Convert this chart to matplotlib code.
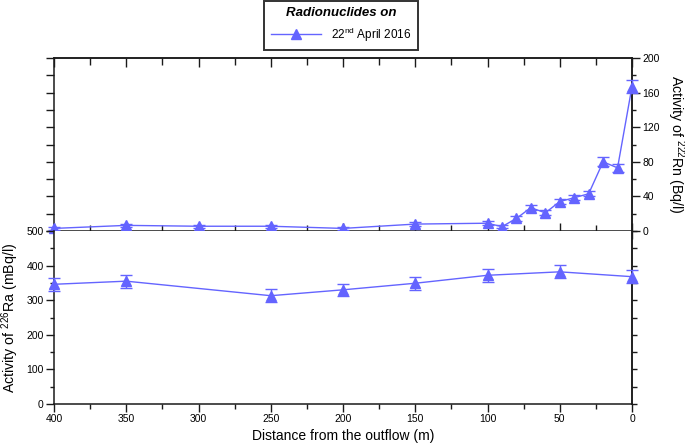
import matplotlib
matplotlib.use("Agg")
import matplotlib.pyplot as plt
from matplotlib.ticker import MultipleLocator, NullFormatter
from matplotlib.lines import Line2D

plt.rcParams['font.family'] = ['Liberation Sans', 'DejaVu Sans']
plt.rcParams['mathtext.fontset'] = 'custom'
plt.rcParams['mathtext.rm'] = 'Liberation Sans'
plt.rcParams['mathtext.it'] = 'Liberation Sans:italic'
plt.rcParams['mathtext.bf'] = 'Liberation Sans:bold'

# ---- data ----
rn_distance = [400, 350, 300, 250, 200, 150, 100, 90, 80, 70, 60, 50, 40, 30, 20, 10, 0]
rn_activity = [3, 6.5, 5.5, 5.5, 3, 8, 9, 5, 14.5, 27, 21, 34, 38.5, 43, 80, 73, 167]
rn_error = [2, 2, 2, 2, 2, 2, 2, 2, 3, 3, 3, 3, 3, 3, 5, 5, 8]

ra_distance = [400, 350, 250, 200, 150, 100, 50, 0]
ra_activity = [346, 355, 313, 330, 349, 372, 382, 368]
ra_error = [19, 19, 18, 18, 19, 19, 19, 19]

color = '#6464ff'
spine_c = '#1a1a1a'

fig = plt.figure(figsize=(6.85, 4.46), dpi=100)
L, W = 54 / 685, 578 / 685
H = 173 / 446
ax_rn = fig.add_axes([L, 1 - 231 / 446, W, H])
ax_ra = fig.add_axes([L, 1 - 404 / 446, W, H])

common = dict(color=color, marker='^', markersize=6.5, linewidth=1.0,
              elinewidth=1.0, capsize=4.5, capthick=1.0, clip_on=False, zorder=5)
h = ax_rn.errorbar(rn_distance, rn_activity, yerr=rn_error, **common)
ax_ra.errorbar(ra_distance, ra_activity, yerr=ra_error, **common)

for ax in (ax_rn, ax_ra):
    ax.set_xlim(400, 0)
    for s in ax.spines.values():
        s.set_color(spine_c)
        s.set_linewidth(1.1)
    ax.xaxis.set_major_locator(MultipleLocator(50))
    ax.xaxis.set_minor_locator(MultipleLocator(25))

# ---- top (Rn) panel ----
ax_rn.set_ylim(0, 200)
ax_rn.yaxis.set_major_locator(MultipleLocator(20))
ax_rn.yaxis.set_major_formatter(NullFormatter())
ax_rn.tick_params(axis='y', which='major', direction='out', length=5.5, width=1, color=spine_c)
ax_rn.tick_params(axis='x', which='major', direction='inout', length=12, width=1, color=spine_c,
                  labelbottom=False)
ax_rn.tick_params(axis='x', which='minor', direction='inout', length=8.5, width=1, color=spine_c)
sec_r = ax_rn.secondary_yaxis('right')
sec_r.yaxis.set_major_locator(MultipleLocator(40))
sec_r.yaxis.set_minor_locator(MultipleLocator(20))
sec_r.tick_params(which='major', direction='out', length=5.5, width=1, color=spine_c,
                  labelsize=7.5, pad=2)
sec_r.tick_params(which='minor', direction='out', length=3, width=1, color=spine_c)
sec_r.spines['right'].set_color(spine_c)
sec_r.spines['right'].set_linewidth(1.1)
sec_r.set_ylabel('Activity of $^{222}$Rn (Bq/l)', rotation=270, fontsize=10.2, labelpad=19)
sec_t = ax_rn.secondary_xaxis('top')
sec_t.xaxis.set_major_locator(MultipleLocator(50))
sec_t.xaxis.set_minor_locator(MultipleLocator(25))
sec_t.xaxis.set_major_formatter(NullFormatter())
sec_t.tick_params(which='major', direction='in', length=6.5, width=1, color=spine_c)
sec_t.tick_params(which='minor', direction='in', length=5, width=1, color=spine_c)
sec_t.spines['top'].set_color(spine_c)
sec_t.spines['top'].set_linewidth(1.1)

# ---- bottom (Ra) panel ----
ax_ra.set_ylim(0, 500)
ax_ra.spines['top'].set_visible(False)
ax_ra.yaxis.set_major_locator(MultipleLocator(100))
ax_ra.yaxis.set_minor_locator(MultipleLocator(50))
ax_ra.tick_params(axis='y', which='major', direction='out', length=5.5, width=1, color=spine_c,
                  labelsize=7.5, pad=2)
ax_ra.tick_params(axis='y', which='minor', direction='out', length=3, width=1, color=spine_c)
ax_ra.tick_params(axis='x', which='major', direction='out', length=5.5, width=1, color=spine_c,
                  labelsize=7.5, pad=2)
ax_ra.tick_params(axis='x', which='minor', direction='out', length=3.5, width=1, color=spine_c)
ax_ra.set_ylabel('Activity of $^{226}$Ra (mBq/l)', fontsize=10.2, labelpad=4)
ax_ra.set_xlabel('Distance from the outflow (m)', fontsize=10, labelpad=3)
sec_r2 = ax_ra.secondary_yaxis('right')
sec_r2.yaxis.set_major_locator(MultipleLocator(50))
sec_r2.yaxis.set_major_formatter(NullFormatter())
sec_r2.tick_params(which='major', direction='out', length=3.5, width=1, color=spine_c)
sec_r2.spines['right'].set_color(spine_c)
sec_r2.spines['right'].set_linewidth(1.1)

# ---- legend ----
handle = Line2D([], [], color=color, marker='^', markersize=6.5, linewidth=1.0)
leg = fig.legend([handle], ['22$^{\\mathrm{nd}}$ April 2016'], loc='center',
                 bbox_to_anchor=(341 / 685, 1 - 25.5 / 446), fontsize=8.5,
                 title='Radionuclides on', handlelength=4.3, handletextpad=0.8,
                 fancybox=False, edgecolor='black', borderpad=0.55)
leg.get_title().set_fontweight('bold')
leg.get_title().set_fontstyle('italic')
leg.get_title().set_fontsize(9.5)
leg.get_frame().set_linewidth(1.4)

fig.savefig('out.png', dpi=100)
